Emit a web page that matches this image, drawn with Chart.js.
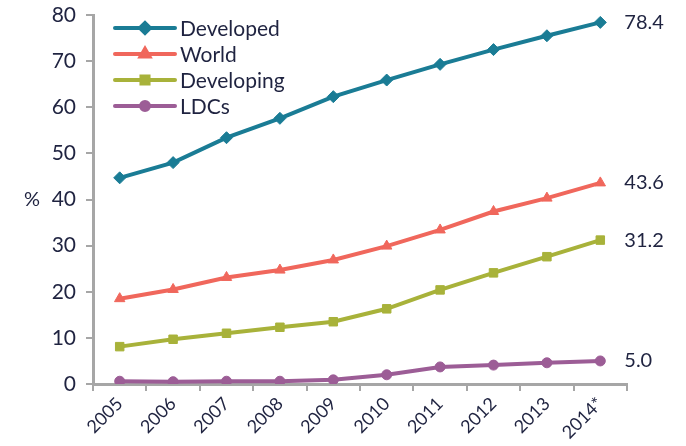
<!DOCTYPE html>
<html>
<head>
<meta charset="utf-8">
<script src="https://cdn.jsdelivr.net/npm/chart.js@4/dist/chart.umd.min.js"></script>
<style>
  html, body { margin: 0; padding: 0; background: #fff; }
  #wrap { width: 686px; height: 446px; }
</style>
</head>
<body>
<div id="wrap"><canvas id="usersChart" width="686" height="446"></canvas></div>
<script>
const years = ["2005", "2006", "2007", "2008", "2009", "2010", "2011", "2012", "2013", "2014*"];
const developed = [44.7, 48.0, 53.4, 57.6, 62.3, 65.9, 69.3, 72.5, 75.5, 78.4];
const world = [18.5, 20.5, 23.1, 24.7, 26.9, 29.9, 33.4, 37.4, 40.3, 43.6];
const developing = [8.1, 9.7, 11.0, 12.3, 13.5, 16.3, 20.4, 24.1, 27.6, 31.2];
const ldcs = [0.6, 0.5, 0.6, 0.6, 0.9, 2.0, 3.7, 4.1, 4.6, 5.0];
const yTicks = [0, 10, 20, 30, 40, 50, 60, 70, 80];

const textColor = "#1f2340";
const axisColor = "#a6a6a6";
const font = "Lato";

function series(label, data, color, style, radius) {
    return {
        label: label,
        data: data,
        borderColor: color,
        backgroundColor: color,
        borderWidth: 4,
        pointStyle: style,
        pointRadius: radius,
        pointBorderWidth: 1,
        tension: 0,
    };
}

// legend top-left inside plot, Excel style (line + marker)
const legendPlugin = {
    id: "insideLegend",
    afterDraw(chart) {
        const ctx = chart.ctx;
        const x0 = 115, y0 = 28, step = 26;
        chart.data.datasets.forEach((ds, i) => {
            const y = y0 + i * step;
            ctx.save();
            ctx.strokeStyle = ds.borderColor;
            ctx.lineWidth = 4;
            ctx.lineCap = "round";
            ctx.beginPath();
            ctx.moveTo(x0, y);
            ctx.lineTo(x0 + 60, y);
            ctx.stroke();
            Chart.helpers.drawPoint(ctx, {
                pointStyle: ds.pointStyle,
                radius: ds.pointRadius - 1,
                borderWidth: 1,
            }, x0 + 30, y);
            ctx.fillStyle = ds.borderColor;
            ctx.fill();
            ctx.fillStyle = textColor;
            ctx.font = "21px " + font;
            ctx.textBaseline = "middle";
            ctx.fillText(ds.label, x0 + 65, y + 1);
            ctx.restore();
        });
    },
};

// value label next to the last point of each series
const endLabels = {
    id: "endLabels",
    afterDatasetsDraw(chart) {
        const ctx = chart.ctx;
        ctx.save();
        ctx.font = "20px " + font;
        ctx.fillStyle = textColor;
        ctx.textBaseline = "middle";
        chart.data.datasets.forEach((ds, i) => {
            const meta = chart.getDatasetMeta(i);
            const last = meta.data[meta.data.length - 1];
            const v = ds.data[ds.data.length - 1];
            ctx.fillText(v.toFixed(1), last.x + 24, last.y);
        });
        ctx.restore();
    },
};

// "%" axis label
const pctLabel = {
    id: "pctLabel",
    afterDraw(chart) {
        const ctx = chart.ctx;
        const y = chart.scales.y.getPixelForValue(40);
        ctx.save();
        ctx.font = "20px " + font;
        ctx.fillStyle = textColor;
        ctx.textBaseline = "middle";
        ctx.fillText("%", 24, y);
        ctx.restore();
    },
};

new Chart(document.getElementById("usersChart").getContext("2d"), {
    type: "line",
    data: {
        labels: years,
        datasets: [
            series("Developed", developed, "#1a7c95", "rectRot", 6),
            series("World", world, "#f0675c", "triangle", 6),
            series("Developing", developing, "#a8b23a", "rect", 6),
            series("LDCs", ldcs, "#9c5d96", "circle", 5),
        ],
    },
    options: {
        responsive: false,
        animation: false,
        devicePixelRatio: 1,
        layout: { padding: { top: 15, right: 59, left: 0, bottom: 0 } },
        plugins: {
            legend: { display: false },
            tooltip: { enabled: false },
        },
        scales: {
            x: {
                offset: true,
                grid: {
                    display: true,
                    offset: true,
                    drawOnChartArea: false,
                    drawTicks: true,
                    tickLength: 7,
                    color: axisColor,
                    lineWidth: 2,
                },
                border: { color: axisColor, width: 3 },
                ticks: {
                    color: textColor,
                    font: { family: font, size: 18 },
                    minRotation: 45,
                    maxRotation: 45,
                    padding: 2,
                },
                afterFit(scale) { scale.height = 62; },
            },
            y: {
                min: 0,
                max: 80,
                afterBuildTicks(scale) {
                    scale.ticks = yTicks.map((v) => ({ value: v }));
                },
                grid: {
                    display: true,
                    drawOnChartArea: false,
                    drawTicks: true,
                    tickLength: 7,
                    color: axisColor,
                    lineWidth: 2,
                },
                border: { color: axisColor, width: 3 },
                ticks: {
                    color: textColor,
                    font: { family: font, size: 21 },
                    padding: 10,
                },
                afterFit(scale) {
                    scale.width = 93;
                    scale.paddingTop = 0;
                    scale.paddingBottom = 0;
                },
            },
        },
    },
    plugins: [legendPlugin, endLabels, pctLabel],
});
</script>
</body>
</html>
